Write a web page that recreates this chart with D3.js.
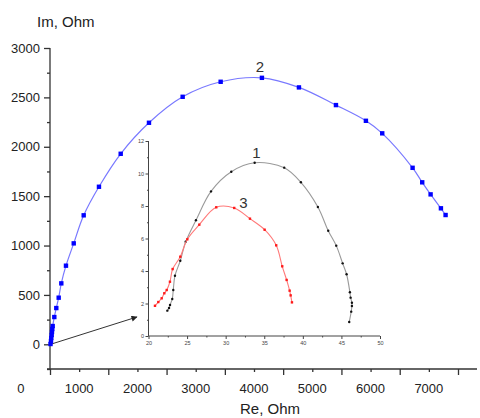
<!DOCTYPE html>
<html>
<head>
<meta charset="utf-8">
<script src="https://cdn.jsdelivr.net/npm/d3@7"></script>
<style>
  html, body { margin: 0; padding: 0; background: #fff; }
  svg { display: block; font-family: "Liberation Sans", Arial, sans-serif; }
</style>
</head>
<body>
<svg id="chart" width="480" height="418"></svg>
<script>
// ---- Data ----
// Curve 2 (main plot), Re / Im in Ohm
const blueRe = [509, 517, 522, 529, 534, 539, 546, 574, 608, 649, 694, 774, 907, 1078, 1340, 1713, 2198, 2776, 3428, 4136, 4771, 5406, 5920, 6200, 6721, 6886, 7030, 7207, 7287];
const blueIm = [3, 33, 64, 94, 125, 155, 185, 276, 367, 472, 617, 796, 1022, 1306, 1595, 1929, 2243, 2506, 2658, 2698, 2601, 2422, 2263, 2136, 1787, 1640, 1518, 1377, 1309];

// Curve 1 (inset)
const blackRe = [22.44, 22.66, 22.79, 23.08, 23.21, 23.43, 24.12, 24.82, 26.15, 28.10, 30.73, 33.76, 37.59, 39.75, 41.95, 43.29, 44.33, 45.16, 45.67, 46.10, 46.19, 46.36, 46.36, 46.27, 46.01];
const blackIm = [1.56, 1.72, 1.91, 2.28, 2.83, 3.71, 4.63, 5.80, 7.12, 8.90, 10.11, 10.66, 10.36, 9.46, 7.94, 6.48, 5.56, 4.47, 3.80, 2.69, 2.36, 2.05, 1.85, 1.50, 0.86];

// Curve 3 (inset)
const redRe = [20.84, 21.27, 21.71, 22.05, 22.36, 22.78, 23.13, 24.12, 25.03, 26.58, 28.78, 31.11, 33.15, 35.05, 36.55, 37.33, 37.90, 38.29, 38.42, 38.59];
const redIm = [1.86, 2.09, 2.32, 2.63, 2.83, 3.34, 4.12, 4.88, 5.95, 6.85, 7.92, 7.88, 7.22, 6.54, 5.58, 4.29, 3.45, 2.79, 2.50, 2.07];

// Tick values / labels
const mainXLabels = [0, 1000, 2000, 3000, 4000, 5000, 6000, 7000];
const mainXMajor = [500, 1500, 2500, 3500, 4500, 5500, 6500, 7500];
const mainYLabels = [0, 500, 1000, 1500, 2000, 2500, 3000];
const mainYMinor = [-250, 250, 750, 1250, 1750, 2250, 2750];
const insetXLabels = [20, 25, 30, 35, 40, 45, 50];
const insetXMinor = [22.5, 27.5, 32.5, 37.5, 42.5, 47.5];
const insetYLabels = [0, 2, 4, 6, 8, 10, 12];
const insetYMinor = [1, 3, 5, 7, 9, 11];

// ---- Scales ----
const svg = d3.select("#chart");
const x = d3.scaleLinear().domain([500, 7500]).range([50, 458]);
const y = d3.scaleLinear().domain([-250, 3000]).range([369.0, 48]);
const xi = d3.scaleLinear().domain([20, 50]).range([148.5, 380]);
const yi = d3.scaleLinear().domain([0, 12]).range([336, 141]);

const axisColor = "#333";

// ---- Main axes ----
// bottom axis line (extends a bit beyond)
svg.append("line").attr("x1", 47).attr("x2", 477).attr("y1", y(-250)).attr("y2", y(-250))
  .attr("stroke", axisColor).attr("stroke-width", 1.3);
const gx = svg.append("g").attr("transform", `translate(0,${y(-250)})`);
gx.call(d3.axisBottom(x).tickValues(mainXMajor).tickSize(6).tickFormat(""));
gx.append("g").call(d3.axisBottom(x).tickValues(mainXLabels.filter(v => v >= 500)).tickSize(3).tickFormat(""));
gx.selectAll("path.domain").remove();
gx.selectAll("line").attr("stroke", axisColor).attr("stroke-width", 1.3);
svg.append("g").selectAll("text").data(mainXLabels).join("text")
  .attr("x", d => x(d)).attr("y", 393)
  .attr("text-anchor", "middle").attr("font-size", 13).attr("fill", "#222")
  .text(d => d);

// left axis
const gy = svg.append("g").attr("transform", `translate(${x(500)},0)`);
gy.call(d3.axisLeft(y).tickValues(mainYLabels).tickSize(6).tickPadding(4).tickFormat(d => d));
gy.append("g").call(d3.axisLeft(y).tickValues(mainYMinor).tickSize(3).tickFormat(""));
gy.selectAll("path.domain").remove();
gy.append("line").attr("y1", y(-250)).attr("y2", y(3000)).attr("stroke", axisColor).attr("stroke-width", 1.3);
gy.selectAll("line").attr("stroke", axisColor).attr("stroke-width", 1.3);
gy.selectAll("text").attr("font-size", 13).attr("fill", "#222").attr("font-family", "Liberation Sans, Arial, sans-serif");

// axis titles
svg.append("text").attr("x", 37).attr("y", 27).attr("font-size", 15).attr("fill", "#222").text("Im, Ohm");
svg.append("text").attr("x", 270).attr("y", 414).attr("text-anchor", "middle").attr("font-size", 15).attr("fill", "#222").text("Re, Ohm");

// ---- Inset axes ----
const ic = "#444";
const gxi = svg.append("g").attr("transform", `translate(0,${yi(0)})`);
gxi.call(d3.axisBottom(xi).tickValues(insetXLabels).tickSize(3).tickPadding(2).tickFormat(d => d));
gxi.append("g").call(d3.axisBottom(xi).tickValues(insetXMinor).tickSize(1.5).tickFormat(""));
gxi.selectAll("path.domain").remove();
gxi.append("line").attr("x1", xi(20)).attr("x2", xi(50)).attr("stroke", ic).attr("stroke-width", 1);
gxi.selectAll("line").attr("stroke", ic).attr("stroke-width", 1);
gxi.selectAll("text").attr("font-size", 5.5).attr("fill", "#444").attr("font-family", "Liberation Sans, Arial, sans-serif");

const gyi = svg.append("g").attr("transform", `translate(${xi(20)},0)`);
gyi.call(d3.axisLeft(yi).tickValues(insetYLabels).tickSize(3).tickPadding(1.5).tickFormat(d => d));
gyi.append("g").call(d3.axisLeft(yi).tickValues(insetYMinor).tickSize(1.5).tickFormat(""));
gyi.selectAll("path.domain").remove();
gyi.append("line").attr("y1", yi(0)).attr("y2", yi(12)).attr("stroke", ic).attr("stroke-width", 1);
gyi.selectAll("line").attr("stroke", ic).attr("stroke-width", 1);
gyi.selectAll("text").attr("font-size", 5.5).attr("fill", "#444").attr("font-family", "Liberation Sans, Arial, sans-serif");

// ---- Arrow ----
const defs = svg.append("defs");
defs.append("marker").attr("id", "ah").attr("viewBox", "0 0 10 10").attr("refX", 9).attr("refY", 5)
  .attr("markerWidth", 9).attr("markerHeight", 6).attr("markerUnits", "userSpaceOnUse").attr("orient", "auto")
  .append("path").attr("d", "M0,0 L10,5 L0,10 Z").attr("fill", "#222");
svg.append("line")
  .attr("x1", x(510)).attr("y1", y(0))
  .attr("x2", xi(18.5)).attr("y2", yi(1.17))
  .attr("stroke", "#333").attr("stroke-width", 1).attr("marker-end", "url(#ah)");

// ---- Curves ----
const zip = (a, b) => a.map((v, i) => [v, b[i]]);
const bluePts = zip(blueRe, blueIm);
const blackPts = zip(blackRe, blackIm);
const redPts = zip(redRe, redIm);

const lineMain = d3.line().x(d => x(d[0])).y(d => y(d[1])).curve(d3.curveCatmullRom.alpha(0.5));
const lineIn = d3.line().x(d => xi(d[0])).y(d => yi(d[1])).curve(d3.curveCatmullRom.alpha(0.5));

svg.append("path").attr("d", lineIn(blackPts)).attr("fill", "none").attr("stroke", "#9a9a9a").attr("stroke-width", 1.1);
svg.selectAll("circle.bk").data(blackPts).join("circle").attr("class", "bk")
  .attr("cx", d => xi(d[0])).attr("cy", d => yi(d[1])).attr("r", 1.2).attr("fill", "#111");

svg.append("path").attr("d", lineIn(redPts)).attr("fill", "none").attr("stroke", "#ff7a7a").attr("stroke-width", 1.1);
svg.selectAll("rect.rd").data(redPts).join("rect").attr("class", "rd")
  .attr("x", d => xi(d[0]) - 1.2).attr("y", d => yi(d[1]) - 1.2).attr("width", 2.4).attr("height", 2.4).attr("fill", "#ff1a1a");

svg.append("path").attr("d", lineMain(bluePts)).attr("fill", "none").attr("stroke", "#7878ff").attr("stroke-width", 1.2);
svg.selectAll("rect.bl").data(bluePts).join("rect").attr("class", "bl")
  .attr("x", d => x(d[0]) - 2.2).attr("y", d => y(d[1]) - 2.2).attr("width", 4.4).attr("height", 4.4).attr("fill", "#0000ff");

// ---- Curve labels ----
svg.append("text").attr("x", x(4100)).attr("y", y(2760)).attr("text-anchor", "middle").attr("font-size", 15).attr("fill", "#333").text("2");
svg.append("text").attr("x", xi(34.0)).attr("y", yi(10.95)).attr("text-anchor", "middle").attr("font-size", 15).attr("fill", "#333").text("1");
svg.append("text").attr("x", xi(32.3)).attr("y", yi(7.9)).attr("text-anchor", "middle").attr("font-size", 15).attr("fill", "#333").text("3");
</script>
</body>
</html>
